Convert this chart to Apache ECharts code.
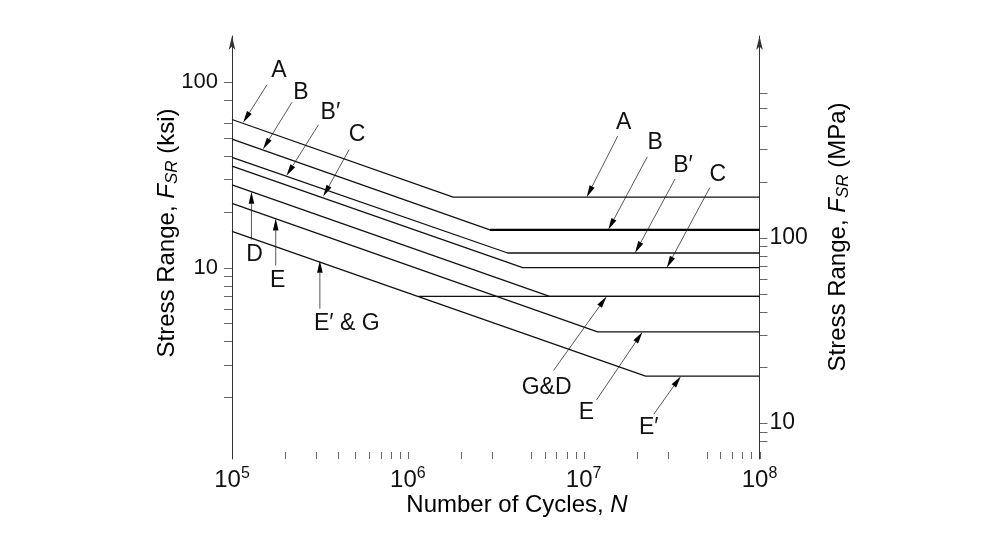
<!DOCTYPE html>
<html><head><meta charset="utf-8">
<script src="https://cdn.jsdelivr.net/npm/echarts@6/dist/echarts.min.js"></script>
<style>html,body{margin:0;padding:0;background:#fff}#c{width:998px;height:556px}</style>
</head><body><div id="c"></div>
<script>
// ---- data ----
const categories = ['A', 'B', 'B′', 'C', 'D', 'E', 'E′'];
const startCycles = 1e5;
const endCycles = 1e8;
const startStress = [63, 49.3, 39.4, 35.3, 28.0, 22.2, 15.7];       // ksi at N = 1e5
const kneeCycles = [1.81e6, 2.93e6, 3.7e6, 4.5e6, 6.4e6, 1.2e7, 2.25e7];
const thresholdStress = [24, 16, 12, 10, 7, 4.5, 2.6];             // ksi
const gStartCycles = 1.15e6;
const gStress = 7;
const ksiMin = 0.929, ksiMax = 177.7;
const ksiToMpa = 6.895;
const ksiTicks = [2, 3, 4, 5, 6, 7, 8, 9, 10, 20, 30, 40, 50, 60, 80, 100];
const ksiLabels = [10, 100];
const mpaTicks = [8, 9, 10, 20, 30, 40, 50, 60, 70, 80, 90, 100, 200, 300, 400, 500, 600];
const mpaLabels = [10, 100];
const cycleTicks = [1e5, 2e5, 3e5, 4e5, 5e5, 6e5, 7e5, 8e5, 9e5, 1e6, 2e6, 3e6, 5e6, 6e6, 7e6, 8e6, 9e6,
                    1e7, 2e7, 3e7, 5e7, 6e7, 7e7, 8e7, 9e7, 1e8];
// annotation arrows: tip on the curve (data coords); tail / label offsets in px
const noteText = ['A', 'B', 'B′', 'C', 'D', 'E', 'E′ & G', 'A', 'B', 'B′', 'C', 'G&D', 'E', 'E′'];
const noteTipN = [1.155e5, 1.5e5, 2.04e5, 3.3e5, 1.29e5, 1.773e5, 3.16e5, 1.04e7, 1.38e7, 1.96e7, 2.97e7, 1.35e7, 2.16e7, 3.57e7];
const noteTipS = [60.5, 43.5, 31.3, 24.2, 25.7, 18.4, 10.9, 24, 16, 12, 10, 7, 4.5, 2.6];

const FONT = '"Liberation Sans", Arial, Helvetica, sans-serif';
const noteTail = [[24, -38], [29, -47], [32, -51], [26, -47], [0, 48], [0, 47], [0, 48],
                  [31, -61], [39, -73], [40, -74], [43, -80], [-53, 74], [-46, 68], [-27, 38]];
const noteLabel = [[12, -14], [9, -10], [12, -12], [8, -15], [3, 15], [2, 15], [27, 15],
                   [6, -14], [8, -14], [8, -13], [8, -13], [-7, 17], [-10, 13], [-5, 14]];

const chart = echarts.init(document.getElementById('c'), null, {renderer: 'canvas'});

function isLabel(v, list) {
  return list.some(t => Math.abs(v - t) / t < 1e-6);
}

const series = [];
categories.forEach((c, i) => {
  series.push({
    name: c, type: 'line', symbol: 'none', silent: true, animation: false,
    lineStyle: {color: '#111', width: 1.3},
    data: [[startCycles, startStress[i]], [kneeCycles[i], thresholdStress[i]], [endCycles, thresholdStress[i]]]
  });
});
// bold threshold of category B
series.push({
  name: 'B threshold', type: 'line', symbol: 'none', silent: true, animation: false,
  lineStyle: {color: '#000', width: 2.4},
  data: [[kneeCycles[1], thresholdStress[1]], [endCycles, thresholdStress[1]]]
});
series.push({
  name: 'G', type: 'line', symbol: 'none', silent: true, animation: false,
  lineStyle: {color: '#111', width: 1.3},
  data: [[gStartCycles, gStress], [endCycles, gStress]]
});

chart.setOption({
  animation: false,
  backgroundColor: '#fff',
  grid: {left: 232, right: 238.5, top: 36, bottom: 97, containLabel: false, outerBoundsMode: 'none'},
  xAxis: {
    type: 'log', min: startCycles, max: endCycles, logBase: 10,
    axisLine: {show: false}, axisTick: {show: false}, splitLine: {show: false},
    axisLabel: {
      margin: 7, color: '#111',
      formatter: v => '{b|10}{s|' + Math.round(Math.log10(v)) + '}',
      rich: {
        b: {fontSize: 24, fontFamily: FONT, color: '#111'},
        s: {fontSize: 16, fontFamily: FONT, color: '#111', padding: [0, 0, 12, 0]}
      }
    }
  },
  yAxis: [{
    type: 'log', min: ksiMin, max: ksiMax, logBase: 10, position: 'left',
    axisLine: {show: true, symbol: ['none', 'arrow'], symbolSize: [5, 14], lineStyle: {color: '#333', width: 1}},
    axisTick: {show: false}, splitLine: {show: false},
    axisLabel: {margin: 14, fontSize: 22, fontFamily: FONT, color: '#111',
      formatter: v => isLabel(v, ksiLabels) ? String(Math.round(v)) : ''}
  }, {
    type: 'log', min: ksiMin * ksiToMpa, max: ksiMax * ksiToMpa, logBase: 10, position: 'right',
    axisLine: {show: true, symbol: ['none', 'arrow'], symbolSize: [5, 14], lineStyle: {color: '#333', width: 1}},
    axisTick: {show: false}, splitLine: {show: false},
    axisLabel: {margin: 10, fontSize: 23, fontFamily: FONT, color: '#111',
      formatter: v => isLabel(v, mpaLabels) ? String(Math.round(v)) : ''}
  }],
  series: series
});

function buildGraphics() {
  const g = [];
  const P = (n, s) => chart.convertToPixel({xAxisIndex: 0, yAxisIndex: 0}, [n, s]);
  const X = n => chart.convertToPixel({xAxisIndex: 0}, n);
  const YL = s => chart.convertToPixel({yAxisIndex: 0}, s);
  const YR = m => chart.convertToPixel({yAxisIndex: 1}, m);
  const xL = X(startCycles), xR = X(endCycles), yB = YL(ksiMin);
  const snap = v => Math.round(v) + 0.5;
  const tickStyle = {stroke: '#666', lineWidth: 1};
  cycleTicks.forEach(n => {
    const x = snap(X(n));
    g.push({type: 'line', silent: true, shape: {x1: x, y1: yB - 7, x2: x, y2: yB}, style: tickStyle});
  });
  ksiTicks.forEach(s => {
    const y = snap(YL(s));
    g.push({type: 'line', silent: true, shape: {x1: xL - 8, y1: y, x2: xL, y2: y}, style: tickStyle});
  });
  mpaTicks.forEach(m => {
    const y = snap(YR(m));
    g.push({type: 'line', silent: true, shape: {x1: xR, y1: y, x2: xR + 8, y2: y}, style: tickStyle});
  });
  // arrows + labels
  noteText.forEach((t, i) => {
    const tip = P(noteTipN[i], noteTipS[i]);
    const tail = [tip[0] + noteTail[i][0], tip[1] + noteTail[i][1]];
    const dx = tip[0] - tail[0], dy = tip[1] - tail[1];
    const len = Math.sqrt(dx * dx + dy * dy);
    const ux = dx / len, uy = dy / len;
    const L = 12, W = 2.8;
    const bx = tip[0] - ux * L, by = tip[1] - uy * L;
    g.push({type: 'line', silent: true,
      shape: {x1: tail[0], y1: tail[1], x2: bx, y2: by}, style: {stroke: '#444', lineWidth: 0.9}});
    g.push({type: 'polygon', silent: true,
      shape: {points: [[tip[0], tip[1]], [bx - uy * W, by + ux * W], [bx + uy * W, by - ux * W]]},
      style: {fill: '#000'}});
    const lab = [tail[0] + noteLabel[i][0], tail[1] + noteLabel[i][1]];
    g.push({type: 'text', silent: true, x: lab[0], y: lab[1],
      style: {text: t, font: '23px ' + FONT, fill: '#111', align: 'center', verticalAlign: 'middle'}});
  });
  // axis titles
  const titleRich = {
    a: {fontSize: 24, fontFamily: FONT, color: '#111'},
    i: {fontSize: 24, fontFamily: FONT, fontStyle: 'italic', color: '#111'},
    s: {fontSize: 17, fontFamily: FONT, fontStyle: 'italic', color: '#111', padding: [11, 0, 0, 0]}
  };
  g.push({type: 'text', silent: true, x: 167, y: 233, rotation: Math.PI / 2,
    style: {text: '{a|Stress Range, }{i|F}{s|SR}{a| (ksi)}', rich: titleRich, align: 'center', verticalAlign: 'middle'}});
  g.push({type: 'text', silent: true, x: 838, y: 237, rotation: Math.PI / 2,
    style: {text: '{a|Stress Range, }{i|F}{s|SR}{a| (MPa)}', rich: titleRich, align: 'center', verticalAlign: 'middle'}});
  g.push({type: 'text', silent: true, x: 517, y: 505,
    style: {text: '{a|Number of Cycles, }{i|N}', rich: titleRich, align: 'center', verticalAlign: 'middle'}});
  chart.setOption({graphic: {elements: g}});
}
buildGraphics();
</script></body></html>
